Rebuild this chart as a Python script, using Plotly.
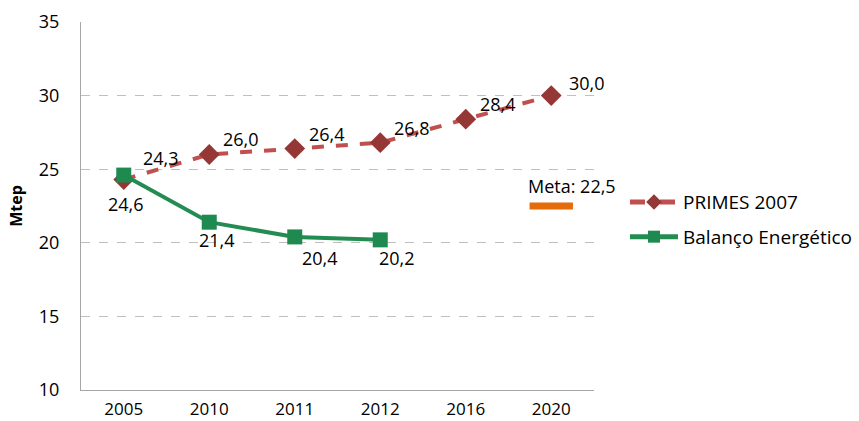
import plotly.graph_objects as go

years = ["2005", "2010", "2011", "2012", "2016", "2020"]
primes = [24.3, 26.0, 26.4, 26.8, 28.4, 30.0]
balanco_years = ["2005", "2010", "2011", "2012"]
balanco = [24.6, 21.4, 20.4, 20.2]
meta_year = ["2020"]
meta = [22.5]

# label offsets (pixels)
primes_shift = [(37, 22), (32, 15), (32, 15), (32, 15), (32, 15), (36, 13)]
balanco_shift = [(2, -29), (8, -18), (25, -21), (17, -18)]

FONT = "Open Sans"
FS = 18
fmt = lambda v: f"{v:.1f}".replace(".", ",")
idx = lambda y: years.index(y)

fig = go.Figure()
fig.add_trace(go.Scatter(
    x=years, y=primes, name="PRIMES 2007", mode="lines+markers",
    line=dict(color="#C0504D", width=4, dash="dash"),
    marker=dict(symbol="diamond", size=16, color="#953735"),
    legendgroup="a",
))
fig.add_trace(go.Scatter(
    x=balanco_years, y=balanco, name="Balanço Energético", mode="lines+markers",
    line=dict(color="#238C52", width=4),
    marker=dict(symbol="square", size=15, color="#1F8A50"),
    legendgroup="b",
))
fig.add_trace(go.Scatter(
    x=meta_year, y=meta, mode="markers", showlegend=False,
    marker=dict(symbol="line-ew", size=31, line=dict(color="#E46C0A", width=7)),
))

ann = []
for x, v, (dx, dy) in zip(years, primes, primes_shift):
    ann.append(dict(x=idx(x), y=v, xref="x", yref="y", text=fmt(v), showarrow=False,
                    xshift=dx, yshift=dy, font=dict(family=FONT, size=FS, color="#000")))
for x, v, (dx, dy) in zip(balanco_years, balanco, balanco_shift):
    ann.append(dict(x=idx(x), y=v, xref="x", yref="y", text=fmt(v), showarrow=False,
                    xshift=dx, yshift=dy, font=dict(family=FONT, size=FS, color="#000")))
ann.append(dict(x=idx(meta_year[0]), y=meta[0], xref="x", yref="y", text="Meta: " + fmt(meta[0]),
                showarrow=False, xshift=21, yshift=20,
                font=dict(family=FONT, size=FS, color="#000")))

fig.update_layout(
    width=859, height=421,
    margin=dict(l=81, r=265, t=22, b=31, autoexpand=False),
    paper_bgcolor="white", plot_bgcolor="white",
    font=dict(family=FONT, size=FS, color="#000"),
    showlegend=True,
    legend=dict(x=(625 - 81) / 513, y=0.463, xanchor="left", yanchor="middle",
                font=dict(family=FONT, size=19), tracegroupgap=7, itemwidth=48,
                itemsizing="constant",
                traceorder="grouped", bgcolor="rgba(0,0,0,0)"),
    annotations=ann,
    xaxis=dict(type="category", range=[-0.5, 5.5], showgrid=False, automargin=False,
               showline=True, linecolor="#A6A6A6", linewidth=1, ticklabelstandoff=4,
               ticks="", tickfont=dict(size=17), zeroline=False),
    yaxis=dict(range=[10, 35], dtick=5, showgrid=True, gridcolor="#BFBFBF", automargin=False,
               griddash="dash", gridwidth=1, showline=True, linecolor="#A6A6A6",
               linewidth=1, ticks="", tickfont=dict(size=FS), zeroline=False,
               ticklabelstandoff=17,
               title=dict(text="<b>Mtep</b>", font=dict(size=16), standoff=12)),
)

fig.write_html("out.html", post_script="document.body.style.margin='0';",
               config={"displayModeBar": False})
